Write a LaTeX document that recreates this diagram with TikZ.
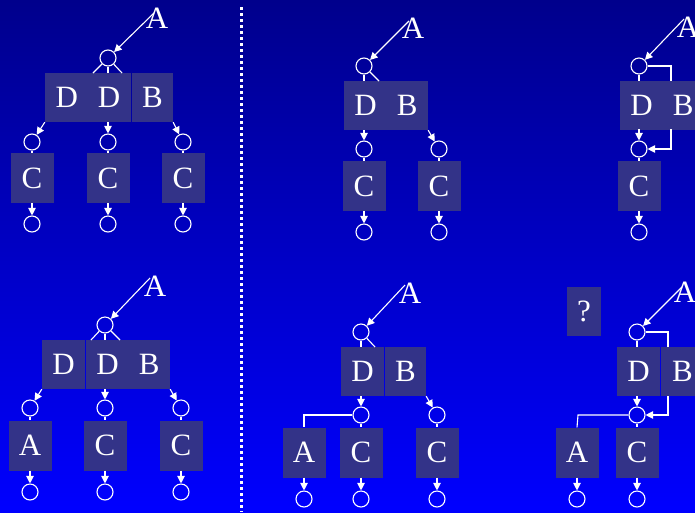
\documentclass[tikz,border=0pt]{standalone}
\usepackage{fontspec}
\setmainfont{Liberation Serif}
\usetikzlibrary{arrows.meta,calc}
\definecolor{boxc}{RGB}{51,51,136}
\definecolor{bgtop}{RGB}{0,0,140}
\definecolor{bgbot}{RGB}{0,0,255}
\begin{document}
\begin{tikzpicture}[x=1pt,y=-1pt,
  box/.style={fill=boxc,text=white,inner sep=0pt,minimum height=49pt,font=\fontsize{31}{31}\selectfont},
  cbox/.style={box,minimum width=43pt,minimum height=50pt},
  lbl/.style={text=white,inner sep=0pt,font=\fontsize{31}{31}\selectfont},
  pt/.style={circle,draw=white,line width=1.1pt,minimum size=16pt,inner sep=0pt},
  ln/.style={draw=white,line width=1.1pt},
  arr/.style={ln,-{Triangle[length=7.5pt,width=7.5pt]}},
  sep/.style={draw=white,line width=2.6pt,dash pattern=on 2.6pt off 3.4pt}
]
\shade[top color=bgtop,bottom color=bgbot] (0,0) rectangle (695,512);
\useasboundingbox (0,0) rectangle (695,512);

% separator
\coordinate (sepT) at (241.5,7);
\coordinate (sepB) at (241.5,512);
\draw[sep] (sepT) -- (sepB);

% ---------- panel 1 ----------
\node[lbl] (A1) at (157,18) {A};
\coordinate (a1) at (154,13);
\node[pt] (p1) at (108,58) {};
\node[box,minimum width=86pt] (DD1) at (88,97.5) {D\hspace{20pt}D};
\node[box,minimum width=41pt] (B1) at (152.5,97.5) {B};
\coordinate (t1a) at (93,73);
\coordinate (t1b) at (108,73);
\coordinate (t1c) at (122,73);
\coordinate (s1b) at (108,122);
\node[pt] (q1a) at (32,142) {};
\node[pt] (q1b) at (108,142) {};
\node[pt] (q1c) at (183,142) {};
\node[cbox] (C1a) at (32,178) {C};
\node[cbox] (C1b) at (108,178) {C};
\node[cbox] (C1c) at (183,178) {C};
\node[pt] (r1a) at (32,224) {};
\node[pt] (r1b) at (108,224) {};
\node[pt] (r1c) at (183,224) {};
\draw[arr] (a1) -- (p1);
\draw[ln] (p1) -- (t1a);
\draw[ln] (p1) -- (t1b);
\draw[ln] (p1) -- (t1c);
\draw[arr] (DD1.south west) -- (q1a);
\draw[arr] (s1b) -- (q1b);
\draw[arr] (B1.south east) -- (q1c);
\draw[ln] (q1a) -- (C1a);
\draw[ln] (q1b) -- (C1b);
\draw[ln] (q1c) -- (C1c);
\draw[arr] (C1a) -- (r1a);
\draw[arr] (C1b) -- (r1b);
\draw[arr] (C1c) -- (r1c);

% ---------- panel 2 ----------
\node[lbl] (A2) at (413,28) {A};
\coordinate (a2) at (409,21);
\node[pt] (p2) at (364,66) {};
\node[box,minimum width=84pt] (DB2) at (386,105.5) {D\hspace{20pt}B};
\coordinate (t2a) at (364,81);
\coordinate (t2b) at (379,81);
\coordinate (s2a) at (364,130);
\node[pt] (q2a) at (364,149) {};
\node[pt] (q2b) at (439,149) {};
\node[cbox] (C2a) at (364,186) {C};
\node[cbox] (C2b) at (439,186) {C};
\node[pt] (r2a) at (364,232) {};
\node[pt] (r2b) at (439,232) {};
\draw[arr] (a2) -- (p2);
\draw[ln] (p2) -- (t2a);
\draw[ln] (p2) -- (t2b);
\draw[arr] (s2a) -- (q2a);
\draw[arr] (DB2.south east) -- (q2b);
\draw[ln] (q2a) -- (C2a);
\draw[ln] (q2b) -- (C2b);
\draw[arr] (C2a) -- (r2a);
\draw[arr] (C2b) -- (r2b);

% ---------- panel 3 ----------
\node[lbl] (A3) at (688,27) {A};
\coordinate (a3) at (684,19);
\node[pt] (p3) at (639,66) {};
\node[box,minimum width=84pt] (DB3) at (662,105) {D\hspace{20pt}B};
\coordinate (t3a) at (639,81);
\coordinate (k3) at (671,66);
\coordinate (t3b) at (671,81);
\coordinate (s3a) at (639,129);
\coordinate (s3b) at (671,129);
\coordinate (k3b) at (671,149);
\node[pt] (q3) at (639,149) {};
\node[cbox] (C3) at (639,186) {C};
\node[pt] (r3) at (639,232) {};
\draw[arr] (a3) -- (p3);
\draw[ln] (p3) -- (t3a);
\draw[ln] (p3.east) -- (k3) -- (t3b);
\draw[arr] (s3a) -- (q3);
\draw[arr] (s3b) -- (k3b) -- (q3.east);
\draw[ln] (q3) -- (C3);
\draw[arr] (C3) -- (r3);

% ---------- panel 4 ----------
\node[lbl] (A4) at (155,286) {A};
\coordinate (a4) at (150,278);
\node[pt] (p4) at (105,325) {};
\node[box,minimum width=43pt] (D4) at (63.5,364.5) {D};
\node[box,minimum width=84pt] (DB4) at (128,364.5) {D\hspace{20pt}B};
\coordinate (t4a) at (91,340);
\coordinate (t4b) at (105,340);
\coordinate (t4c) at (120,340);
\coordinate (s4b) at (105,389);
\node[pt] (q4a) at (30,408) {};
\node[pt] (q4b) at (105,408) {};
\node[pt] (q4c) at (181,408) {};
\node[cbox] (X4a) at (30,445.5) {A};
\node[cbox] (X4b) at (105,445.5) {C};
\node[cbox] (X4c) at (181,445.5) {C};
\node[pt] (r4a) at (30,492) {};
\node[pt] (r4b) at (105,492) {};
\node[pt] (r4c) at (181,492) {};
\draw[arr] (a4) -- (p4);
\draw[ln] (p4) -- (t4a);
\draw[ln] (p4) -- (t4b);
\draw[ln] (p4) -- (t4c);
\draw[arr] (D4.south west) -- (q4a);
\draw[arr] (s4b) -- (q4b);
\draw[arr] (DB4.south east) -- (q4c);
\draw[ln] (q4a) -- (X4a);
\draw[ln] (q4b) -- (X4b);
\draw[ln] (q4c) -- (X4c);
\draw[arr] (X4a) -- (r4a);
\draw[arr] (X4b) -- (r4b);
\draw[arr] (X4c) -- (r4c);

% ---------- panel 5 ----------
\node[lbl] (A5) at (410,293) {A};
\coordinate (a5) at (405,285);
\node[pt] (p5) at (361,332) {};
\node[box,minimum width=43pt] (D5) at (362.5,371.5) {D};
\node[box,minimum width=41pt] (B5) at (405.5,371.5) {B};
\coordinate (t5a) at (361,347);
\coordinate (t5b) at (375,347);
\coordinate (s5a) at (361,396);
\node[pt] (q5a) at (361,415) {};
\node[pt] (q5b) at (437,415) {};
\coordinate (k5) at (304,415);
\node[cbox] (X5a) at (304,452.5) {A};
\node[cbox] (X5b) at (361,452.5) {C};
\node[cbox] (X5c) at (437,452.5) {C};
\node[pt] (r5a) at (304,499) {};
\node[pt] (r5b) at (361,499) {};
\node[pt] (r5c) at (437,499) {};
\draw[arr] (a5) -- (p5);
\draw[ln] (p5) -- (t5a);
\draw[ln] (p5) -- (t5b);
\draw[arr] (s5a) -- (q5a);
\draw[arr] (B5.south east) -- (q5b);
\draw[ln] (q5a.west) -- (k5) -- (X5a.north);
\draw[ln] (q5a) -- (X5b);
\draw[ln] (q5b) -- (X5c);
\draw[arr] (X5a) -- (r5a);
\draw[arr] (X5b) -- (r5b);
\draw[arr] (X5c) -- (r5c);

% ---------- panel 6 ----------
\node[box,minimum width=34pt] (Q6) at (584,311.5) {?};
\node[lbl] (A6) at (685,292) {A};
\coordinate (a6) at (682,287);
\node[pt] (p6) at (637,332) {};
\node[box,minimum width=43pt] (D6) at (638.5,371.5) {D};
\node[box,minimum width=43pt] (B6) at (682.5,371.5) {B};
\coordinate (t6a) at (637,347);
\coordinate (k6) at (668,332);
\coordinate (t6b) at (668,347);
\coordinate (s6a) at (637,396);
\coordinate (s6b) at (668,396);
\coordinate (k6b) at (668,415);
\node[pt] (q6) at (637,415) {};
\coordinate (k6c) at (578,415);
\node[cbox] (X6a) at (577,452.5) {A};
\node[cbox] (X6b) at (637,452.5) {C};
\node[pt] (r6a) at (577,499) {};
\node[pt] (r6b) at (637,499) {};
\draw[arr] (a6) -- (p6);
\draw[ln] (p6) -- (t6a);
\draw[ln] (p6.east) -- (k6) -- (t6b);
\draw[arr] (s6a) -- (q6);
\draw[arr] (s6b) -- (k6b) -- (q6.east);
\draw[ln] (q6.west) -- (k6c) -- (X6a.north);
\draw[ln] (q6) -- (X6b);
\draw[arr] (X6a) -- (r6a);
\draw[arr] (X6b) -- (r6b);
\end{tikzpicture}
\end{document}
